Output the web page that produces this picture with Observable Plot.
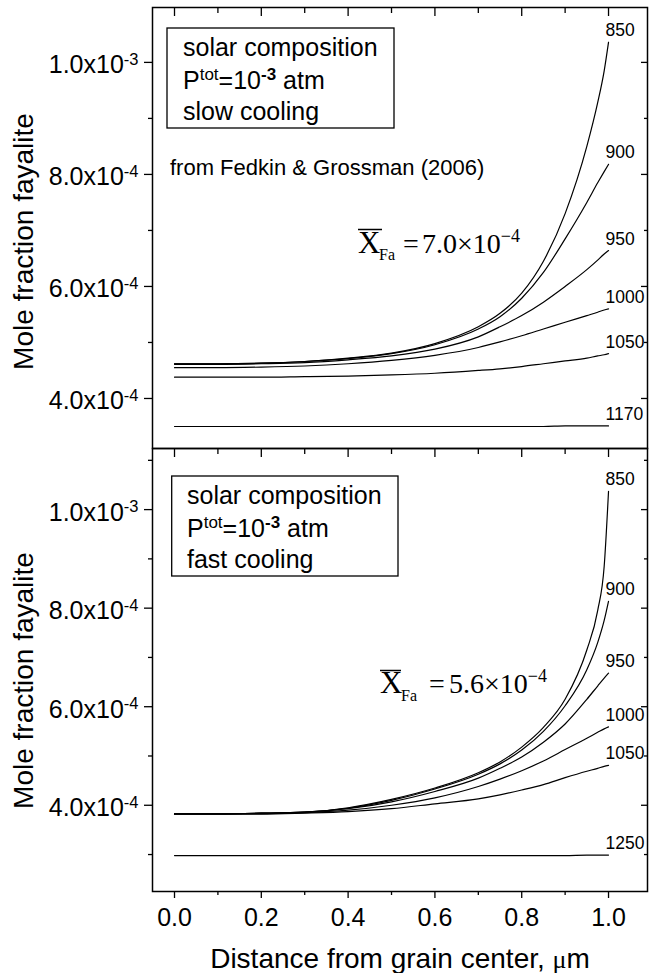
<!DOCTYPE html>
<html><head><meta charset="utf-8">
<script src="https://cdn.jsdelivr.net/npm/d3@7"></script>
<script src="https://cdn.jsdelivr.net/npm/@observablehq/plot@0.6"></script>
<style>
body{margin:0;background:#fff;}
#wrap{position:relative;width:652px;height:973px;font-family:"Liberation Sans",Arial,sans-serif;}
#wrap svg{position:absolute;left:0;}
</style></head><body><div id="wrap"></div>
<script>
// distance from grain center (µm)
const distance = [0, 0.1, 0.2, 0.3, 0.4, 0.5, 0.6, 0.7, 0.75, 0.8, 0.85, 0.9, 0.95, 0.975, 0.99, 1.0];

// mole fraction fayalite, units of 1e-4 — slow cooling (top panel)
const slowLabels = ["850", "900", "950", "1000", "1050", "1170"];
const slow850  = [4.62,4.62,4.63,4.66,4.72,4.81,4.98,5.28,5.52,5.88,6.45,7.30,8.50,9.28,9.85,10.36];
const slow900  = [4.62,4.62,4.63,4.66,4.71,4.80,4.96,5.24,5.46,5.79,6.25,6.85,7.50,7.85,8.05,8.18];
const slow950  = [4.61,4.61,4.62,4.64,4.69,4.76,4.88,5.10,5.28,5.48,5.72,6.00,6.30,6.47,6.58,6.64];
const slow1000 = [4.55,4.55,4.56,4.58,4.62,4.68,4.77,4.91,5.01,5.12,5.24,5.36,5.48,5.54,5.58,5.60];
const slow1050 = [4.38,4.38,4.38,4.39,4.40,4.42,4.45,4.50,4.53,4.57,4.62,4.67,4.72,4.76,4.78,4.80];
const slow1170 = [3.50,3.50,3.50,3.50,3.50,3.50,3.50,3.50,3.50,3.50,3.50,3.51,3.51,3.51,3.51,3.51];

// fast cooling (bottom panel)
const fastLabels = ["850", "900", "950", "1000", "1050", "1250"];
const fast850  = [3.83,3.83,3.84,3.86,3.95,4.12,4.35,4.66,4.88,5.18,5.58,6.15,7.15,7.95,8.85,10.37];
const fast900  = [3.83,3.83,3.84,3.86,3.94,4.10,4.33,4.63,4.84,5.12,5.50,6.02,6.75,7.30,7.75,8.14];
const fast950  = [3.83,3.83,3.84,3.86,3.93,4.07,4.28,4.55,4.75,4.98,5.28,5.65,6.15,6.42,6.58,6.68];
const fast1000 = [3.82,3.82,3.83,3.85,3.90,4.00,4.15,4.38,4.53,4.70,4.90,5.13,5.36,5.48,5.55,5.59];
const fast1050 = [3.82,3.82,3.82,3.84,3.87,3.93,4.03,4.13,4.21,4.31,4.42,4.56,4.69,4.75,4.79,4.81];
const fast1250 = [2.98,2.98,2.98,2.98,2.98,2.98,2.98,2.98,2.98,2.98,2.98,2.98,2.99,2.99,2.99,2.99];

// axis ticks
const xMajor = [0, 0.2, 0.4, 0.6, 0.8, 1.0];
const xMinor = [0.1, 0.3, 0.5, 0.7, 0.9];
const yMajor = [4, 6, 8, 10];
const yMinorTop = [5, 7, 9];
const yMinorBottom = [3, 5, 7, 9, 11];

function tidy(labels, series) {
  const rows = [];
  labels.forEach((T, k) => distance.forEach((x, i) => rows.push({x, v: series[k][i], T})));
  return rows;
}
const slowRows = tidy(slowLabels, [slow850, slow900, slow950, slow1000, slow1050, slow1170]);
const fastRows = tidy(fastLabels, [fast850, fast900, fast950, fast1000, fast1050, fast1250]);

const fmtY = v => v === 10 ? "1.0x10|-3" : `${v.toFixed(1)}x10|-4`;
const blank = () => "";
const font = '"Liberation Sans", Arial, sans-serif';

function panel({rows, yDomain, yMinor, height, marginTop, marginBottom, bottomAxis, titleDy}) {
  const marks = [
    Plot.frame({stroke: "black", strokeWidth: 1.5}),
    Plot.axisY({ticks: yMajor, tickSize: 8, tickPadding: 6, tickFormat: fmtY, fontSize: 25, strokeWidth: 1.3, label: null}),
    Plot.axisY({ticks: yMinor, tickSize: 4, tickFormat: blank, strokeWidth: 1.3, label: null}),
    Plot.axisY({anchor: "right", ticks: yMajor, tickSize: -7, tickFormat: blank, strokeWidth: 1.3, label: null}),
    Plot.axisY({anchor: "right", ticks: yMinor, tickSize: -4, tickFormat: blank, strokeWidth: 1.3, label: null}),
    Plot.axisX({anchor: "top", ticks: xMajor, tickSize: -8, tickFormat: blank, strokeWidth: 1.3, label: null}),
    Plot.axisX({anchor: "top", ticks: xMinor, tickSize: -5, tickFormat: blank, strokeWidth: 1.3, label: null}),
    Plot.line(rows, {x: "x", y: "v", z: "T", curve: "monotone-x", stroke: "black", strokeWidth: 1.2}),
    Plot.text(rows, Plot.selectLast({x: "x", y: "v", z: "T", text: "T", textAnchor: "start", lineAnchor: "bottom", dx: -3, dy: -6, fontSize: 17.5, fill: "black"})),
    Plot.text(["Mole fraction fayalite"], {frameAnchor: "left", text: d => d, rotate: -90, textAnchor: "middle", lineAnchor: "bottom", dx: -120, dy: titleDy, fontSize: 28, fill: "black"})
  ];
  if (bottomAxis) {
    marks.push(
      Plot.axisX({anchor: "bottom", ticks: xMajor, tickSize: 7, tickPadding: 10, tickFormat: d3.format(".1f"), fontSize: 25, strokeWidth: 1.3, label: null}),
      Plot.axisX({anchor: "bottom", ticks: xMinor, tickSize: 4, tickFormat: blank, strokeWidth: 1.3, label: null}),
      Plot.text(["Distance from grain center, ~\u03bc~m"], {frameAnchor: "bottom", text: d => d, textAnchor: "middle", lineAnchor: "bottom", dy: 76, fontSize: 28, fill: "black"})
    );
  }
  return Plot.plot({
    width: 652, height, marginTop, marginBottom, marginLeft: 152, marginRight: 5,
    style: {fontFamily: font, background: "transparent", color: "black", overflow: "visible"},
    x: {domain: [-0.0507, 1.0898]},
    y: {domain: yDomain},
    marks
  });
}

const NS = "http://www.w3.org/2000/svg";
function richify(svg) {
  svg.querySelectorAll("text").forEach(t => {
    const s0 = t.textContent;
    if (s0.includes("|")) {
      const [a, b] = s0.split("|");
      t.textContent = a;
      t.setAttribute("dy", "3");
      const s = document.createElementNS(NS, "tspan");
      s.setAttribute("font-size", "16.5");
      s.setAttribute("dy", "-8.5");
      s.textContent = b;
      t.appendChild(s);
    } else if (s0.includes("~")) {
      const [a, mu, b] = s0.split("~");
      t.textContent = a;
      const m = document.createElementNS(NS, "tspan");
      m.setAttribute("font-family", '"Liberation Serif", "Times New Roman", serif');
      m.setAttribute("font-size", "26");
      m.textContent = mu;
      const r = document.createElementNS(NS, "tspan");
      r.textContent = b;
      t.appendChild(m); t.appendChild(r);
    }
  });
}

const wrap = document.getElementById("wrap");
const topPanel = panel({rows: slowRows, yDomain: [3.107, 10.98], yMinor: yMinorTop, height: 449, marginTop: 7, marginBottom: 1, bottomAxis: false, titleDy: 13.5});
topPanel.style.top = "0px";
const botPanel = panel({rows: fastRows, yDomain: [2.25, 11.24], yMinor: yMinorBottom, height: 527, marginTop: 2, marginBottom: 82, bottomAxis: true, titleDy: 10.5});
botPanel.style.top = "446px";
wrap.appendChild(topPanel);
wrap.appendChild(botPanel);
richify(topPanel); richify(botPanel);

// annotations
const ann = `
<svg width="652" height="973" style="position:absolute;top:0;left:0;overflow:visible" font-family='"Liberation Sans", Arial, sans-serif' fill="black">
  <rect x="167" y="28" width="227" height="100" fill="none" stroke="black" stroke-width="1.3"/>
  <text x="183" y="56" font-size="25">solar composition</text>
  <text x="183" y="89" font-size="25">P<tspan font-size="17" dy="-9">tot</tspan><tspan dy="9">=10</tspan><tspan font-size="17" font-weight="bold" dy="-9">-3</tspan><tspan dy="9"> atm</tspan></text>
  <text x="183" y="120" font-size="25">slow cooling</text>
  <text x="170" y="175" font-size="22">from Fedkin &amp; Grossman (2006)</text>
  <line x1="358" x2="382" y1="229.5" y2="229.5" stroke="black" stroke-width="1.5"/>
  <g font-family='"Liberation Serif", "Times New Roman", serif'>
    <text x="358" y="252.5" font-size="31">X</text>
    <text x="379" y="260" font-size="16">Fa</text>
    <text x="403" y="252.5" font-size="28">=</text>
    <text x="422" y="252.5" font-size="28">7.0\u00d710<tspan font-size="18" dy="-11">\u22124</tspan></text>
  </g>
  <rect x="171.7" y="476" width="226.3" height="100" fill="none" stroke="black" stroke-width="1.3"/>
  <text x="187" y="504" font-size="25">solar composition</text>
  <text x="187" y="537" font-size="25">P<tspan font-size="17" dy="-9">tot</tspan><tspan dy="9">=10</tspan><tspan font-size="17" font-weight="bold" dy="-9">-3</tspan><tspan dy="9"> atm</tspan></text>
  <text x="187" y="568" font-size="25">fast cooling</text>
  <line x1="380" x2="401" y1="670.5" y2="670.5" stroke="black" stroke-width="1.5"/>
  <g font-family='"Liberation Serif", "Times New Roman", serif'>
    <text x="380" y="693.3" font-size="31">X</text>
    <text x="401" y="701" font-size="16">Fa</text>
    <text x="429" y="693.3" font-size="28">=</text>
    <text x="449" y="693.3" font-size="28">5.6\u00d710<tspan font-size="18" dy="-11">\u22124</tspan></text>
  </g>
</svg>`;
wrap.insertAdjacentHTML("beforeend", ann);
</script></body></html>
